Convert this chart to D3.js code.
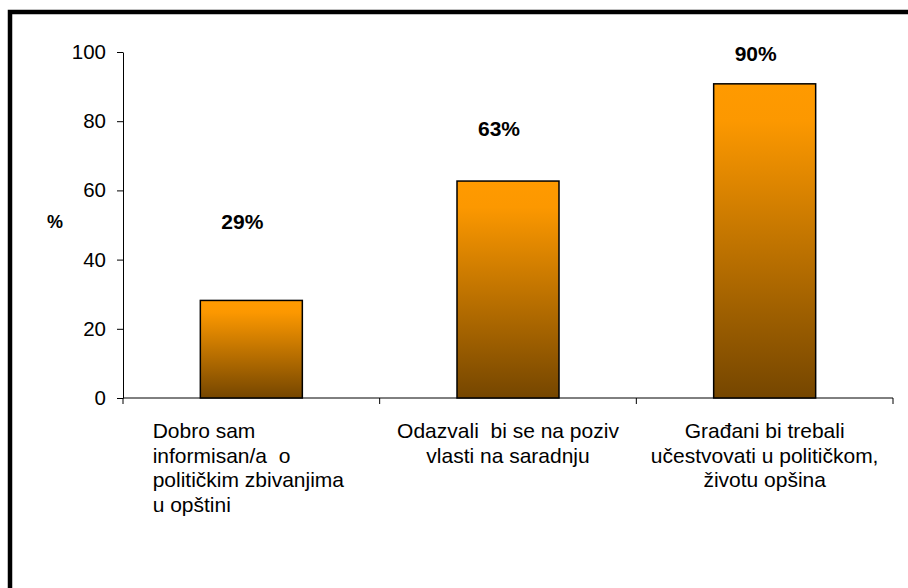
<!DOCTYPE html>
<html>
<head>
<meta charset="utf-8">
<script src="https://cdn.jsdelivr.net/npm/d3@7"></script>
<style>
  body { margin: 0; background: #fff; }
  svg { display: block; font-family: "Liberation Sans", Arial, sans-serif; }
</style>
</head>
<body>
<svg id="chart" width="908" height="588"></svg>
<script>
'use strict'

// values
var categories = ['c1', 'c2', 'c3']
var values = [28.2, 62.7, 90.8]
var valueLabels = ['29%', '63%', '90%']
var categoryLines = [
  ['Dobro sam', 'informisan/a  o', 'političkim zbivanjima', 'u opštini'],
  ['Odazvali  bi se na poziv', 'vlasti na saradnju'],
  ['Građani bi trebali', 'učestvovati u političkom,', 'životu opšina']
]
var yTicks = [0, 20, 40, 60, 80, 100]

var svg = d3.select('#chart')

// outer frame (only top and left show in the picture)
svg.append('rect')
  .attr('x', 10).attr('y', 12)
  .attr('width', 960).attr('height', 640)
  .attr('fill', 'none')
  .attr('stroke', '#000')
  .attr('stroke-width', 4.5)

var defs = svg.append('defs')
var grad = defs.append('linearGradient')
  .attr('id', 'barGrad')
  .attr('x1', 0).attr('y1', 0).attr('x2', 0).attr('y2', 1)
grad.append('stop').attr('offset', '0%').attr('stop-color', '#ff9a00')
grad.append('stop').attr('offset', '12%').attr('stop-color', '#fc9800')
grad.append('stop').attr('offset', '100%').attr('stop-color', '#754600')

var x = d3.scaleBand().domain(categories).range([123, 893])
var y = d3.scaleLinear().domain([0, 100]).range([398, 52])
// labels in the original sit on their own line, not on the bars
var labelY = d3.scaleLinear().domain([0, 100]).range([296.7, 29.1])

var barW = 102

// y axis
var yAxis = svg.append('g')
  .attr('transform', 'translate(123,0)')
  .call(d3.axisLeft(y).tickValues(yTicks).tickSize(6).tickSizeOuter(0).tickPadding(11))
yAxis.select('.domain').attr('stroke', '#000')
yAxis.selectAll('line').attr('stroke', '#000')
yAxis.selectAll('text')
  .attr('fill', '#000')
  .style('font-size', '20.5px')
  .style('font-family', '"Liberation Sans", Arial, sans-serif')

// x axis with ticks at band edges
var xAxis = svg.append('g').attr('transform', 'translate(0,398)')
xAxis.append('line')
  .attr('x1', 123).attr('x2', 893)
  .attr('stroke', '#000')
var edges = categories.map(function(c){ return x(c) }).concat([x.range()[1]])
xAxis.selectAll('.etick').data(edges).enter()
  .append('line')
  .attr('class', 'etick')
  .attr('x1', function(d){ return d }).attr('x2', function(d){ return d })
  .attr('y1', 0).attr('y2', 6)
  .attr('stroke', '#000')

// bars
svg.selectAll('.bar').data(values).enter()
  .append('rect')
  .attr('class', 'bar')
  .attr('x', function(d, i){ return x(categories[i]) + x.bandwidth()/2 - barW/2 })
  .attr('y', function(d){ return y(d) })
  .attr('width', barW)
  .attr('height', function(d){ return y(0) - y(d) })
  .attr('fill', 'url(#barGrad)')
  .attr('stroke', '#000')
  .attr('stroke-width', 1.5)

// value labels
svg.selectAll('.vlabel').data(values).enter()
  .append('text')
  .attr('class', 'vlabel')
  .attr('x', function(d, i){ return x(categories[i]) + x.bandwidth()/2 - 9 })
  .attr('y', function(d){ return labelY(d) })
  .attr('dy', '0.35em')
  .attr('text-anchor', 'middle')
  .style('font-size', '21px')
  .style('font-weight', 'bold')
  .text(function(d, i){ return valueLabels[i] })

// y axis title
svg.append('text')
  .attr('x', 55).attr('y', 222)
  .attr('dy', '0.35em')
  .attr('text-anchor', 'middle')
  .style('font-size', '18px')
  .style('font-weight', 'bold')
  .text('%')

// category labels
categoryLines.forEach(function(lines, i){
  var cx = x(categories[i]) + x.bandwidth()/2
  var t = svg.append('text')
    .attr('class', 'clabel')
    .style('font-size', '21px')
    .attr('xml:space', 'preserve')
  lines.forEach(function(line, j){
    t.append('tspan')
      .attr('x', cx)
      .attr('y', 438 + j * 24.5)
      .text(line)
  })
  if (i === 0) {
    // first block is left aligned inside a centred box
    var w = d3.max(t.selectAll('tspan').nodes(), function(n){ return n.getComputedTextLength() })
    t.attr('text-anchor', 'start')
    t.selectAll('tspan').attr('x', cx - w/2 - 3)
  } else {
    t.attr('text-anchor', 'middle')
  }
})
</script>
</body>
</html>
